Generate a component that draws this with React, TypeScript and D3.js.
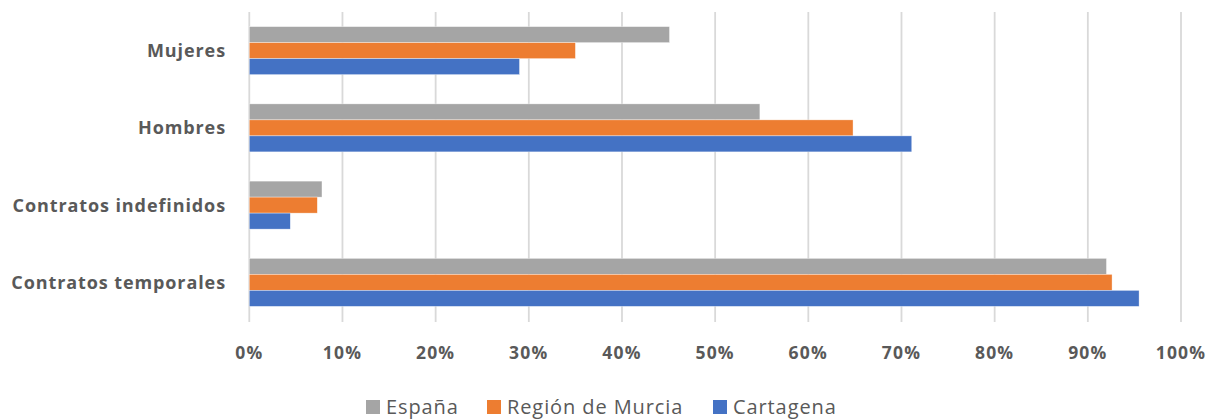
import * as d3 from 'd3';
import React from 'react';

const width = 1213;
const height = 419;
const margin = { top: 12, right: 32, bottom: 98, left: 249.3 };

const categories = ['Mujeres', 'Hombres', 'Contratos indefinidos', 'Contratos temporales'];
const seriesNames = ['España', 'Región de Murcia', 'Cartagena'];
const seriesColors = ['#A5A5A5', '#ED7D31', '#4472C4'];
// values in %, same order as categories
const espana = [45.1, 54.8, 7.8, 92.0];
const murcia = [35.0, 64.8, 7.3, 92.6];
const cartagena = [29.0, 71.1, 4.4, 95.5];
const xTicks = [0, 10, 20, 30, 40, 50, 60, 70, 80, 90, 100];

const seriesValues = [espana, murcia, cartagena];
const textColor = '#595959';
const font = '"Open Sans", sans-serif';

const App = () => {
  const x = d3.scaleLinear().domain([0, 100]).range([margin.left, width - margin.right]);
  const y = d3.scaleBand().domain(categories).range([margin.top, height - margin.bottom]);
  const ySub = d3.scaleBand().domain(seriesNames).range([0, y.bandwidth()]).paddingOuter(0.914);

  const plotBottom = height - margin.bottom;

  // legend layout
  const legendX = [366, 487, 713];

  return (
    <svg width={width} height={height} style={{ position: 'absolute', left: 0, top: 0 }}>
      <rect width={width} height={height} fill="#fff" />
      {xTicks.map(t => (
        <g key={t}>
          <line x1={x(t)} x2={x(t)} y1={margin.top} y2={plotBottom + 1} stroke="#d9d9d9" strokeWidth={1.8} />
          <text x={x(t)} y={359} textAnchor="middle" fontFamily={font} fontWeight="bold"
            fontSize={17.5} letterSpacing={1.2} fill={textColor}>{t + '%'}</text>
        </g>
      ))}
      {categories.map((c, i) => (
        <g key={c}>
          {seriesNames.map((s, j) => (
            <rect key={s} x={x(0)} y={(y(c) as number) + (ySub(s) as number)}
              width={x(seriesValues[j][i]) - x(0)} height={ySub.bandwidth()}
              fill={seriesColors[j]} stroke="#fff" strokeOpacity={0.6} strokeWidth={0.6} />
          ))}
          <text x={226} y={(y(c) as number) + y.bandwidth() / 2 + 6.5} textAnchor="end"
            fontFamily={font} fontWeight="bold" fontSize={18} letterSpacing={0.9} fill={textColor}>{c}</text>
        </g>
      ))}
      {seriesNames.map((s, j) => (
        <g key={s} transform={`translate(${legendX[j]}, 0)`}>
          <rect x={0} y={400} width={14} height={14} fill={seriesColors[j]} />
          <text x={20} y={414} fontFamily={font} fontSize={20} letterSpacing={0.9} fill={textColor}>{s}</text>
        </g>
      ))}
    </svg>
  );
};

export default App;
